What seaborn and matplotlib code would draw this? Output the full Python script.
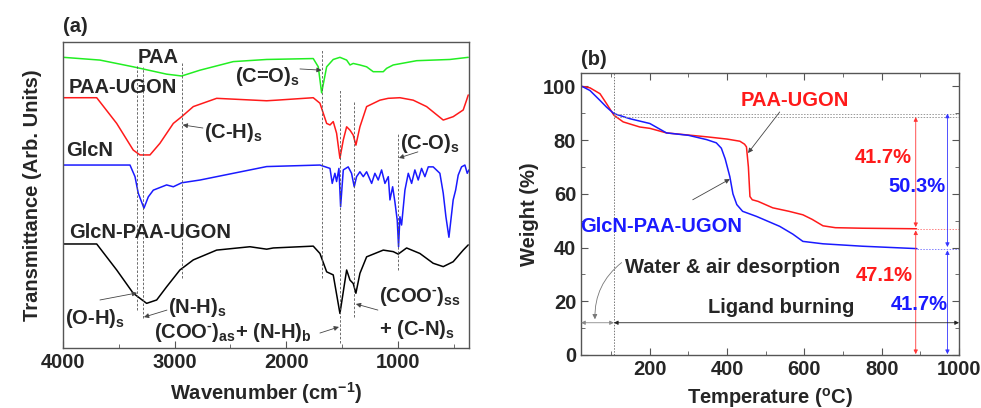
import matplotlib
matplotlib.use('Agg')
import matplotlib.pyplot as plt
import seaborn as sns
from matplotlib.ticker import MultipleLocator

# ---- (a) FTIR spectra (arbitrary offset units) ----
paa_wn = [3997, 3669, 3371, 3072, 2937, 2773, 2475, 2176, 1759, 1714, 1684, 1639, 1580, 1520,
          1460, 1430, 1401, 1341, 1281, 1222, 1132, 1102, 1043, 833, 535, 371]
paa_t = [95.0, 94.1, 91.9, 89.5, 88.9, 90.8, 93.6, 94.3, 94.6, 91.9, 83.4, 91.9, 94.3, 95.0,
         94.1, 92.5, 93.0, 92.5, 91.9, 90.3, 90.3, 91.4, 92.5, 93.9, 94.3, 95.0]

ugon_wn = [3997, 3698, 3519, 3371, 3311, 3221, 3132, 3012, 2937, 2833, 2624, 2176, 2087, 1759,
           1699, 1639, 1609, 1580, 1550, 1520, 1490, 1460, 1430, 1401, 1377, 1341, 1281, 1162,
           1088, 983, 864, 744, 595, 506, 416, 386, 371]
ugon_t = [81.8, 81.8, 73.4, 64.7, 63.1, 63.1, 66.9, 73.4, 75.6, 78.9, 81.6, 80.8, 81.0, 81.8,
          80.0, 73.4, 72.9, 74.0, 70.2, 62.0, 68.0, 72.3, 71.2, 69.6, 66.3, 72.3, 78.9, 81.0,
          81.6, 81.8, 81.0, 78.9, 74.5, 75.6, 77.8, 81.0, 82.7]

glcn_wn = [3997, 3400, 3355, 3326, 3275, 3236, 3191, 3072, 3012, 2937, 2773, 2475, 2176, 1699,
           1609, 1589, 1565, 1550, 1529, 1514, 1490, 1446, 1416, 1392, 1371, 1341, 1311, 1281,
           1236, 1207, 1177, 1147, 1117, 1087, 1072, 1048, 1028, 1007, 995, 983, 968, 938, 908,
           878, 849, 819, 789, 759, 729, 685, 625, 595, 571, 544, 506, 484, 461, 431, 401, 380, 365]
glcn_t = [59.8, 59.8, 56.0, 50.6, 45.7, 49.4, 51.6, 53.3, 52.7, 54.0, 54.9, 57.1, 59.3, 59.8,
          58.7, 53.8, 57.1, 54.4, 58.7, 46.2, 58.2, 59.2, 57.1, 52.7, 56.0, 57.6, 56.0, 57.6,
          53.8, 57.1, 54.9, 58.2, 53.8, 56.0, 48.4, 52.7, 47.8, 41.8, 33.1, 42.9, 40.2, 51.6, 57.1,
          53.8, 58.2, 54.9, 58.7, 56.0, 59.2, 59.2, 57.1, 50.6, 42.9, 36.2, 48.4, 51.6, 56.5, 59.2,
          59.8, 57.1, 58.2]

mix_wn = [3997, 3698, 3519, 3371, 3251, 3161, 3072, 2953, 2833, 2624, 2326, 2176, 2117, 1759,
          1699, 1639, 1580, 1520, 1460, 1430, 1401, 1377, 1341, 1281, 1132, 1043, 998, 923, 804,
          685, 595, 506, 416, 371]
mix_t = [34.0, 34.0, 25.5, 17.9, 14.6, 15.7, 20.0, 25.5, 28.8, 32.0, 33.1, 32.3, 32.7, 33.3,
         30.9, 24.9, 23.9, 11.3, 25.5, 22.2, 21.1, 17.9, 24.4, 29.8, 32.0, 31.5, 30.7, 32.7, 30.9,
         27.7, 26.6, 28.2, 32.0, 33.7]

# ---- (b) TGA curves ----
ugon_temp = [25, 45, 71, 88, 107, 131, 174, 200, 243, 300, 350, 400, 433, 445, 450, 455, 459,
             465, 480, 518, 560, 596, 620, 648, 680, 750, 890]
ugon_w = [100, 99.5, 97.3, 93.6, 89.3, 86.8, 84.9, 84.4, 82.7, 81.9, 81.2, 80.4, 79.6, 78.5,
          77.5, 70.0, 59.0, 57.8, 57.2, 54.8, 53.5, 52.2, 50.5, 48.1, 47.4, 47.2, 47.0]

glcn_temp = [25, 45, 71, 88, 107, 148, 200, 243, 300, 347, 372, 385, 395, 407, 415, 425, 440,
             476, 536, 570, 596, 648, 750, 891]
glcn_w = [100, 98.5, 94.8, 92.3, 89.9, 88.0, 86.2, 82.7, 81.8, 80.2, 79.0, 77.0, 73.0, 66.4,
          60.0, 56.0, 53.5, 51.6, 47.9, 45.0, 42.3, 41.4, 40.5, 39.6]

sns.set_style('ticks')
plt.rcParams['font.family'] = ['Liberation Sans', 'DejaVu Sans']
plt.rcParams['font.weight'] = 'bold'
plt.rcParams['axes.labelweight'] = 'bold'
plt.rcParams['mathtext.fontset'] = 'custom'
plt.rcParams['mathtext.rm'] = 'Liberation Sans:bold'
plt.rcParams['mathtext.it'] = 'Liberation Sans:bold'
plt.rcParams['mathtext.bf'] = 'Liberation Sans:bold'

fig = plt.figure(figsize=(9.81, 4.08), dpi=100)
ax1 = fig.add_axes([0.0642, 0.147, 0.4138, 0.750])
ax2 = fig.add_axes([0.5923, 0.130, 0.3853, 0.691])

FS = 14.5
spine_c = '#555555'
arw = dict(arrowstyle='-|>', color='#444444', lw=0.6, mutation_scale=7, shrinkA=0, shrinkB=0)
MINUS = r'$^{\text{-}}$'

# ---------------- panel (a) ----------------
sns.lineplot(x=paa_wn, y=paa_t, ax=ax1, color='#22ee22', lw=1.1, sort=False, estimator=None)
sns.lineplot(x=ugon_wn, y=ugon_t, ax=ax1, color='#ff1a1a', lw=1.1, sort=False, estimator=None)
sns.lineplot(x=glcn_wn, y=glcn_t, ax=ax1, color='#1a1aff', lw=1.1, sort=False, estimator=None)
sns.lineplot(x=mix_wn, y=mix_t, ax=ax1, color='black', lw=1.1, sort=False, estimator=None)

for wn, y0, y1 in [(3335, 12.4, 92.5), (3281, 9.8, 91.8), (2937, 22.9, 93.1), (1684, 22.9, 97.4),
                   (1520, 1.6, 84.3), (1392, 10.1, 80.4), (998, 25.5, 70.3)]:
    ax1.vlines(wn, y0, y1, colors='#555555', linestyles=(0, (3, 2)), lw=0.6)

ax1.set_xlim(4000, 365)
ax1.set_ylim(0, 100)
ax1.set_yticks([])
ax1.xaxis.set_major_locator(MultipleLocator(1000))
ax1.xaxis.set_minor_locator(MultipleLocator(500))
ax1.tick_params(axis='x', which='both', direction='in', labelsize=FS, color=spine_c)
ax1.tick_params(axis='x', which='major', length=5)
ax1.tick_params(axis='x', which='minor', length=3)
for lab in ax1.get_xticklabels():
    lab.set_fontweight('bold')
ax1.set_xlabel('Wavenumber (cm$^{-1}$)', fontsize=FS, labelpad=6)
ax1.set_ylabel('Transmittance (Arb. Units)', fontsize=FS, labelpad=15)

ax1.text(3149, 94.8, 'PAA', fontsize=FS, ha='center', va='center')
ax1.text(3463, 85.0, 'PAA-UGON', fontsize=FS, ha='center', va='center')
ax1.text(3758, 64.4, 'GlcN', fontsize=FS, ha='center', va='center')
ax1.text(3221, 37.6, 'GlcN-PAA-UGON', fontsize=FS, ha='center', va='center')

ax1.text(2174, 88.6, r'(C=O)$_\mathrm{s}$', fontsize=FS, ha='center', va='center')
ax1.annotate('', xy=(1684, 90.8), xytext=(1878, 91.2), arrowprops=arw)
ax1.text(2478, 70.3, r'(C-H)$_\mathrm{s}$', fontsize=FS, ha='center', va='center')
ax1.annotate('', xy=(2928, 72.9), xytext=(2747, 71.9), arrowprops=arw)
ax1.text(714, 67.0, r'(C-O)$_\mathrm{s}$', fontsize=FS, ha='center', va='center')
ax1.annotate('', xy=(992, 62.1), xytext=(822, 64.1), arrowprops=arw)
ax1.text(3713, 9.8, r'(O-H)$_\mathrm{s}$', fontsize=FS, ha='center', va='center')
ax1.annotate('', xy=(3337, 18.0), xytext=(3669, 15.7), arrowprops=arw)
ax1.text(2800, 13.4, r'(N-H)$_\mathrm{s}$', fontsize=FS, ha='center', va='center')
ax1.annotate('', xy=(3275, 10.1), xytext=(3069, 12.4), arrowprops=arw)
ax1.text(2478, 5.2, '(COO' + MINUS + r')$_\mathrm{as}$+ (N-H)$_\mathrm{b}$', fontsize=FS,
         ha='center', va='center')
ax1.annotate('', xy=(1529, 6.9), xytext=(1699, 4.9), arrowprops=arw)
ax1.text(804, 16.7, '(COO' + MINUS + r')$_\mathrm{ss}$', fontsize=FS, ha='center', va='center')
ax1.text(831, 5.9, r'+ (C-N)$_\mathrm{s}$', fontsize=FS, ha='center', va='center')
ax1.annotate('', xy=(1377, 14.4), xytext=(1180, 12.4), arrowprops=arw)

ax1.text(0.0, 1.02, '(a)', transform=ax1.transAxes, fontsize=FS, ha='left', va='bottom')

# ---------------- panel (b) ----------------
sns.lineplot(x=ugon_temp, y=ugon_w, ax=ax2, color='#ff1a1a', lw=1.1, sort=False, estimator=None)
sns.lineplot(x=glcn_temp, y=glcn_w, ax=ax2, color='#1a1aff', lw=1.1, sort=False, estimator=None)

dot = (0, (1.5, 1.5))
ax2.axvline(107, color='#777777', ls=dot, lw=0.7)
ax2.hlines([89.9, 88.6], 107, 1000, colors='#999999', linestyles=dot, lw=0.7)
ax2.hlines(47.0, 890, 1000, colors='#ff8080', linestyles=dot, lw=0.7)
ax2.hlines(39.6, 891, 1000, colors='#8080ff', linestyles=dot, lw=0.7)

red_arw = dict(arrowstyle='<|-|>', color='#ff3333', lw=0.6, mutation_scale=6, shrinkA=0, shrinkB=0)
blue_arw = dict(arrowstyle='<|-|>', color='#3333ff', lw=0.6, mutation_scale=6, shrinkA=0, shrinkB=0)
ax2.annotate('', xy=(888, 88.6), xytext=(888, 47.6), arrowprops=red_arw)
ax2.annotate('', xy=(888, 46.4), xytext=(888, 0.3), arrowprops=red_arw)
ax2.annotate('', xy=(970, 89.9), xytext=(970, 40.2), arrowprops=blue_arw)
ax2.annotate('', xy=(970, 39.0), xytext=(970, 0.3), arrowprops=blue_arw)

ax2.text(803, 73.7, '41.7%', color='#ff1a1a', fontsize=FS, ha='center', va='center')
ax2.text(890, 62.7, '50.3%', color='#1a1aff', fontsize=FS, ha='center', va='center')
ax2.text(807, 29.6, '47.1%', color='#ff1a1a', fontsize=FS, ha='center', va='center')
ax2.text(896, 18.9, '41.7%', color='#1a1aff', fontsize=FS, ha='center', va='center')

ax2.text(575, 94.8, 'PAA-UGON', color='#ff1a1a', fontsize=FS, ha='center', va='center')
ax2.annotate('', xy=(454, 75.2), xytext=(536, 90.5), arrowprops=arw)
ax2.text(230, 47.9, 'GlcN-PAA-UGON', color='#1a1aff', fontsize=FS, ha='center', va='center')
ax2.annotate('', xy=(407, 65.5), xytext=(311, 57.8), arrowprops=arw)

ax2.text(415, 32.5, 'Water & air desorption', fontsize=FS, ha='center', va='center')
ax2.annotate('', xy=(58, 13.3), xytext=(127, 34.4),
             arrowprops=dict(arw, connectionstyle='arc3,rad=0.25', color='#777777'))
ax2.text(541, 17.7, 'Ligand burning', fontsize=FS, ha='center', va='center')
ax2.annotate('', xy=(22, 12), xytext=(107, 12),
             arrowprops=dict(arrowstyle='<|-|>', color='#888888', lw=0.6, mutation_scale=6,
                             shrinkA=0, shrinkB=0))
ax2.annotate('', xy=(107, 12), xytext=(1000, 12),
             arrowprops=dict(arrowstyle='<|-|>', color='#222222', lw=0.6, mutation_scale=6,
                             shrinkA=0, shrinkB=0))

ax2.set_xlim(22, 1000)
ax2.set_ylim(0, 105)
ax2.xaxis.set_major_locator(MultipleLocator(200))
ax2.xaxis.set_minor_locator(MultipleLocator(100))
ax2.yaxis.set_major_locator(MultipleLocator(20))
ax2.yaxis.set_minor_locator(MultipleLocator(10))
ax2.tick_params(which='both', direction='in', top=True, right=True, labelsize=FS, color=spine_c)
ax2.tick_params(which='major', length=5)
ax2.tick_params(which='minor', length=3)
for lab in ax2.get_xticklabels() + ax2.get_yticklabels():
    lab.set_fontweight('bold')
ax2.set_xlabel(r'Temperature ($^\mathrm{o}$C)', fontsize=FS, labelpad=5)
ax2.set_ylabel('Weight (%)', fontsize=FS, labelpad=3)
ax2.text(0.0, 1.015, '(b)', transform=ax2.transAxes, fontsize=FS, ha='left', va='bottom')

for ax in (ax1, ax2):
    for s in ax.spines.values():
        s.set_visible(True)
        s.set_color(spine_c)
        s.set_linewidth(1.0)

fig.savefig('out.png', dpi=100)
